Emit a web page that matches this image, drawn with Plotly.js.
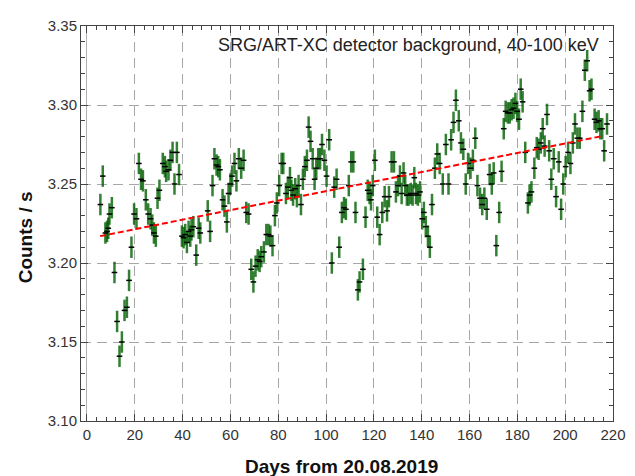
<!DOCTYPE html>
<html>
<head>
<meta charset="utf-8">
<script src="https://cdn.plot.ly/plotly-3.0.1.min.js"></script>
<style>html,body{margin:0;padding:0;background:#fff;}#chart{width:635px;height:476px;}</style>
</head>
<body>
<div id="chart"></div>
<script>
// Days from 20.08.2019
const days = [5.6,6.6,7.7,8.4,8.9,9.4,10.4,11.5,12.6,13.6,14.6,15.7,16.7,17.6,18.6,19.7,20.7,21.7,22.6,23.4,24.6,25.6,26.6,27.3,28.0,28.8,29.5,30.3,31.7,32.6,33.1,34.1,34.9,35.8,36.6,37.6,38.5,39.7,40.4,41.1,41.8,42.5,43.2,43.7,44.5,45.7,46.7,47.4,50.5,51.5,52.5,53.3,54.2,54.9,55.6,56.7,57.5,58.5,59.2,60.0,60.7,61.7,62.5,63.5,64.5,65.5,66.6,67.6,68.7,69.6,70.5,71.4,72.2,72.9,74.0,75.0,75.9,76.7,77.6,78.6,79.4,80.4,81.4,82.1,83.2,84.0,84.9,85.5,86.2,87.1,87.8,88.5,89.5,90.3,91.1,92.0,92.7,93.5,94.4,95.2,95.9,96.7,97.5,98.3,99.3,100.2,101.3,102.4,103.4,104.4,105.5,106.6,107.5,108.3,109.5,110.5,111.4,112.3,113.3,114.0,115.4,116.5,117.4,118.2,118.8,119.5,120.4,121.4,122.4,123.5,124.5,125.5,126.3,127.4,128.4,129.2,130.1,130.9,131.6,132.4,133.1,133.8,134.5,135.4,136.2,136.9,137.6,138.4,139.3,140.2,140.9,141.7,142.6,143.4,144.3,145.5,146.5,147.5,148.8,150.1,151.2,152.3,153.3,154.3,155.5,156.4,157.4,158.4,159.4,160.4,161.4,162.4,163.3,164.4,165.3,166.2,167.2,168.4,169.3,170.1,171.2,172.4,173.4,174.3,175.1,176.0,176.8,177.6,178.4,179.2,179.9,180.7,181.4,182.2,183.3,184.4,185.1,185.9,187.1,188.1,188.9,189.8,190.6,191.4,192.4,193.3,194.2,195.2,196.2,197.3,198.3,199.2,200.2,201.2,202.2,203.2,204.1,205.1,206.1,207.2,208.2,209.2,210.2,211.0,212.3,213.1,214.0,214.7,215.5,216.3,217.5];
// Count rate, counts / s
const rates = [3.237,3.255,3.219,3.220,3.222,3.231,3.235,3.194,3.163,3.141,3.150,3.170,3.172,3.189,3.210,3.231,3.228,3.263,3.253,3.252,3.240,3.231,3.228,3.224,3.219,3.217,3.241,3.246,3.263,3.261,3.258,3.259,3.265,3.270,3.250,3.270,3.256,3.217,3.216,3.218,3.213,3.220,3.217,3.221,3.223,3.205,3.222,3.219,3.233,3.220,3.249,3.266,3.262,3.261,3.259,3.240,3.236,3.226,3.244,3.250,3.255,3.263,3.252,3.266,3.260,3.265,3.232,3.231,3.196,3.188,3.198,3.202,3.201,3.204,3.207,3.218,3.218,3.217,3.211,3.230,3.238,3.249,3.263,3.263,3.244,3.248,3.254,3.246,3.243,3.247,3.242,3.249,3.237,3.253,3.261,3.265,3.286,3.277,3.266,3.253,3.260,3.266,3.266,3.275,3.265,3.255,3.278,3.200,3.248,3.253,3.210,3.232,3.235,3.234,3.249,3.264,3.264,3.232,3.183,3.188,3.196,3.229,3.246,3.244,3.240,3.249,3.265,3.229,3.218,3.232,3.242,3.233,3.242,3.264,3.264,3.245,3.249,3.255,3.244,3.257,3.249,3.243,3.243,3.244,3.243,3.254,3.244,3.243,3.245,3.228,3.232,3.223,3.217,3.210,3.237,3.260,3.269,3.263,3.250,3.275,3.250,3.278,3.289,3.303,3.290,3.276,3.272,3.250,3.263,3.260,3.265,3.279,3.249,3.241,3.237,3.241,3.234,3.256,3.250,3.257,3.211,3.232,3.258,3.285,3.296,3.295,3.295,3.297,3.298,3.301,3.296,3.291,3.310,3.302,3.270,3.238,3.243,3.245,3.260,3.273,3.272,3.276,3.285,3.274,3.294,3.271,3.253,3.266,3.242,3.264,3.234,3.250,3.261,3.270,3.263,3.276,3.288,3.279,3.279,3.296,3.322,3.328,3.309,3.310,3.291,3.289,3.290,3.285,3.285,3.271,3.288];
// Linear fit end points
const fitDays = [5.5, 216];
const fitRates = [3.217, 3.2805];
const xTicks = [0,20,40,60,80,100,120,140,160,180,200,220];
const yTicks = [3.10,3.15,3.20,3.25,3.30,3.35];
const titleText = 'SRG/ART-XC detector background, 40-100 keV';
const xTitle = 'Days from 20.08.2019';
const yTitle = 'Counts / s';

const font = 'Liberation Sans, Arial, sans-serif';

const data = [
  {
    x: days, y: rates, type: 'scatter', mode: 'markers',
    marker: {symbol: 'line-ew', size: 4, color: '#000', line: {color: '#000', width: 1.5}},
    error_y: {type: 'constant', value: 0.0068, color: 'rgba(0,95,0,0.8)', thickness: 2.5, width: 0},
    showlegend: false
  },
  {
    x: fitDays, y: fitRates, type: 'scatter', mode: 'lines',
    line: {color: '#ff0000', width: 2, dash: '6px,3px'},
    showlegend: false
  }
];

const axisCommon = {
  showline: true, linecolor: '#444', linewidth: 1, mirror: 'allticks',
  ticks: 'inside', ticklen: 7, tickcolor: '#444', tickwidth: 1,
  showgrid: true, gridcolor: '#a8a8a8', griddash: '10px,6px', gridwidth: 1,
  tickfont: {family: font, size: 15, color: '#333'}
};

const layout = {
  width: 635, height: 476,
  margin: {l: 81, r: 22, t: 26, b: 55},
  paper_bgcolor: '#fff', plot_bgcolor: '#fff',
  font: {family: font},
  xaxis: Object.assign({}, axisCommon, {
    range: [-2.5, 220], tickvals: xTicks, ticktext: xTicks.map(String),
    zeroline: true, zerolinecolor: '#b0b0b0', zerolinewidth: 1,
    minor: {dtick: 4, tick0: 0, ticks: 'inside', ticklen: 4, tickcolor: '#444', showgrid: false}
  }),
  yaxis: Object.assign({}, axisCommon, {
    range: [3.10, 3.35], tickvals: yTicks, ticktext: yTicks.map(v => v.toFixed(2)),
    zeroline: false,
    minor: {dtick: 0.01, tick0: 3.10, ticks: 'inside', ticklen: 4, tickcolor: '#444', showgrid: false}
  }),
  annotations: [
    {
      text: titleText, xref: 'paper', yref: 'paper', x: 0.977, y: 0.952,
      xanchor: 'right', yanchor: 'middle', showarrow: false,
      font: {family: font, size: 18, color: '#222'}
    },
    {
      text: '<b>' + xTitle + '</b>', xref: 'paper', yref: 'paper', x: 0.49, y: 0, yshift: -45,
      xanchor: 'center', yanchor: 'middle', showarrow: false,
      font: {family: font, size: 19, color: '#111'}
    },
    {
      text: '<b>' + yTitle + '</b>', xref: 'paper', yref: 'paper', x: 0, xshift: -56, y: 0.465,
      xanchor: 'center', yanchor: 'middle', showarrow: false, textangle: -90,
      font: {family: font, size: 19, color: '#111'}
    }
  ]
};

Plotly.newPlot('chart', data, layout, {displayModeBar: false, staticPlot: true});
</script>
</body>
</html>
